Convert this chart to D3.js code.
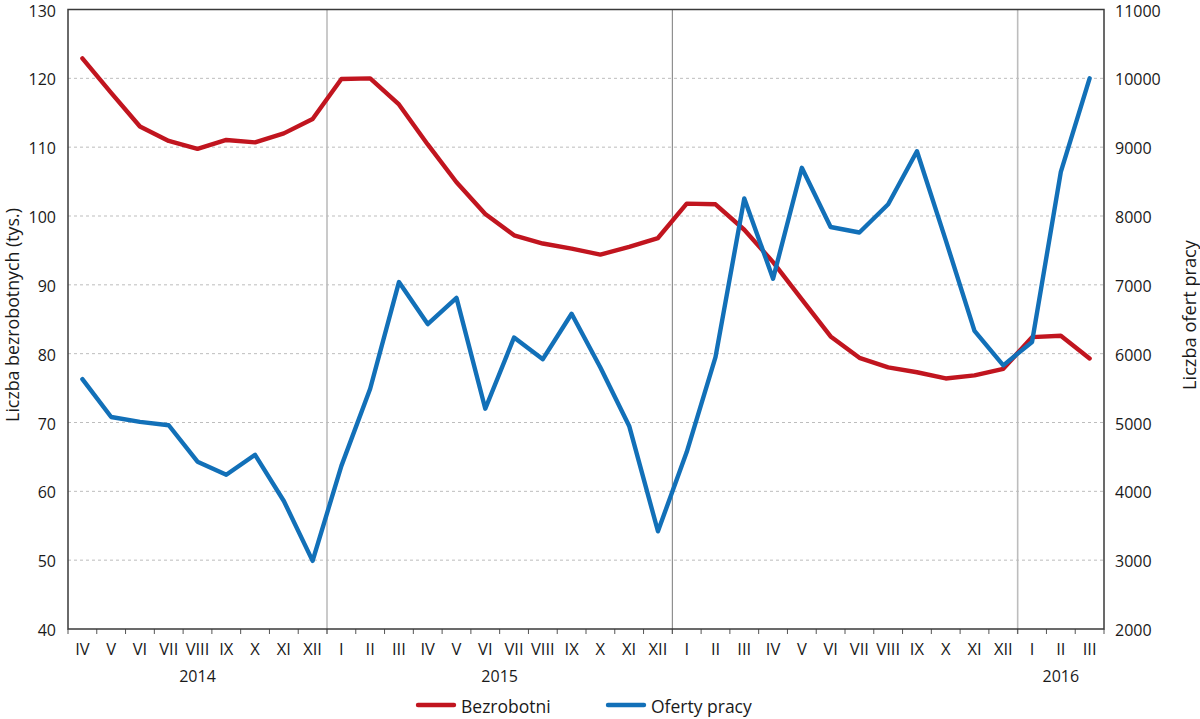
<!DOCTYPE html>
<html><head><meta charset="utf-8">
<script src="https://cdn.jsdelivr.net/npm/d3@7"></script>
<style>body{margin:0;background:#fff;} text{font-family:"Open Sans",sans-serif;fill:#1a1a1a;}</style>
</head><body><svg id="c" width="1200" height="719"></svg>
<script>
const months = ["IV","V","VI","VII","VIII","IX","X","XI","XII",
  "I","II","III","IV","V","VI","VII","VIII","IX","X","XI","XII",
  "I","II","III","IV","V","VI","VII","VIII","IX","X","XI","XII",
  "I","II","III"];
const yearGroups = [
  {label:"2014", start:0, count:9},
  {label:"2015", start:9, count:12},
  {label:"", start:21, count:12},
  {label:"2016", start:33, count:3}
];
const bezrobotni = [122.9,117.9,113.0,110.9,109.75,111.05,110.7,112.0,114.1,
  119.9,120.0,116.2,110.4,104.9,100.3,97.2,96.0,95.25,94.4,95.5,96.8,
  101.8,101.7,98.0,93.3,87.9,82.5,79.4,78.0,77.3,76.4,76.85,77.8,
  82.4,82.6,79.3];
const oferty = [5630,5080,5010,4960,4430,4240,4530,3860,2990,
  4370,5490,7040,6430,6810,5200,6235,5920,6580,5800,4950,3420,
  4570,5950,8255,7090,8700,7840,7760,8170,8940,7650,6330,5830,
  6170,8640,10000];
const leftTicks = [40,50,60,70,80,90,100,110,120,130];
const rightTicks = [2000,3000,4000,5000,6000,7000,8000,9000,10000,11000];
const seriesNames = ["Bezrobotni","Oferty pracy"];
const colors = ["#c1151f","#1270b8"];

const svg = d3.select("#c");
const L=68, R=1104, T=9.5, B=629;
const x = d3.scaleBand().domain(d3.range(months.length)).range([L,R]).padding(0);
const yL = d3.scaleLinear().domain([40,130]).range([B,T]);
const yR = d3.scaleLinear().domain([2000,11000]).range([B,T]);
const cx = i => x(i) + x.bandwidth()/2;

// grid
svg.append("g").selectAll("line").data(leftTicks.filter(v=>v>40&&v<130)).join("line")
  .attr("x1",L).attr("x2",R).attr("y1",d=>yL(d)).attr("y2",d=>yL(d))
  .attr("stroke","#bdbdbd").attr("stroke-width",1).attr("stroke-dasharray","3,3");

// year separators
yearGroups.slice(1).forEach((g,k)=>{
  const xx = x(g.start);
  svg.append("line").attr("x1",xx).attr("x2",xx).attr("y1",T).attr("y2",B+5)
    .attr("stroke", k===1 ? "#7a7a7a" : "#bdbdbd").attr("stroke-width", k===1?1:1.6);
});

// x ticks
svg.append("g").selectAll("line").data(d3.range(months.length+1)).join("line")
  .attr("x1",i=> i<months.length? x(i): R).attr("x2",i=> i<months.length? x(i): R)
  .attr("y1",B).attr("y2",B+5).attr("stroke","#555").attr("stroke-width",1);

// frame
svg.append("rect").attr("x",L).attr("y",T).attr("width",R-L).attr("height",B-T)
  .attr("fill","none").attr("stroke","#3a3a3a").attr("stroke-width",1.5);

// axis labels
svg.append("g").selectAll("text").data(leftTicks).join("text")
  .attr("x",56).attr("y",d=>yL(d)+7).attr("text-anchor","end").attr("font-size",16).text(d=>d);
svg.append("g").selectAll("text").data(rightTicks).join("text")
  .attr("x",1115).attr("y",d=>yR(d)+7).attr("text-anchor","start").attr("font-size",16).text(d=>d);
svg.append("g").selectAll("text").data(months).join("text")
  .attr("x",(d,i)=>cx(i)).attr("y",655).attr("text-anchor","middle").attr("font-size",16.5).text(d=>d);
svg.append("g").selectAll("text").data(yearGroups).join("text")
  .attr("x",g=>(x(g.start)+ (g.start+g.count<months.length? x(g.start+g.count): R))/2)
  .attr("y",682).attr("text-anchor","middle").attr("font-size",16).text(g=>g.label);

function fitText(sel, target){
  const len = sel.node().getComputedTextLength();
  const fs = parseFloat(sel.attr("font-size"));
  sel.attr("font-size", fs*target/len);
}
const t1 = svg.append("text").attr("transform","translate(19,315) rotate(-90)").attr("text-anchor","middle")
  .attr("font-size",16).text("Liczba bezrobotnych (tys.)");
fitText(t1, 214);
const t2 = svg.append("text").attr("transform","translate(1196,315) rotate(-90)").attr("text-anchor","middle")
  .attr("font-size",16).text("Liczba ofert pracy");
fitText(t2, 150);

// lines
const lineL = d3.line().x((d,i)=>cx(i)).y(d=>yL(d));
const lineR = d3.line().x((d,i)=>cx(i)).y(d=>yR(d));
svg.append("path").datum(bezrobotni).attr("d",lineL).attr("fill","none")
  .attr("stroke",colors[0]).attr("stroke-width",4.4).attr("stroke-linejoin","round").attr("stroke-linecap","round");
svg.append("path").datum(oferty).attr("d",lineR).attr("fill","none")
  .attr("stroke",colors[1]).attr("stroke-width",4.4).attr("stroke-linejoin","round").attr("stroke-linecap","round");

// legend
const lg = [{x:418},{x:608}];
seriesNames.forEach((n,i)=>{
  svg.append("line").attr("x1",lg[i].x).attr("x2",lg[i].x+36).attr("y1",705).attr("y2",705)
    .attr("stroke",colors[i]).attr("stroke-width",4.4).attr("stroke-linecap","round");
  svg.append("text").attr("x",lg[i].x+43).attr("y",713).attr("font-size",17.5).text(n);
});
</script></body></html>
